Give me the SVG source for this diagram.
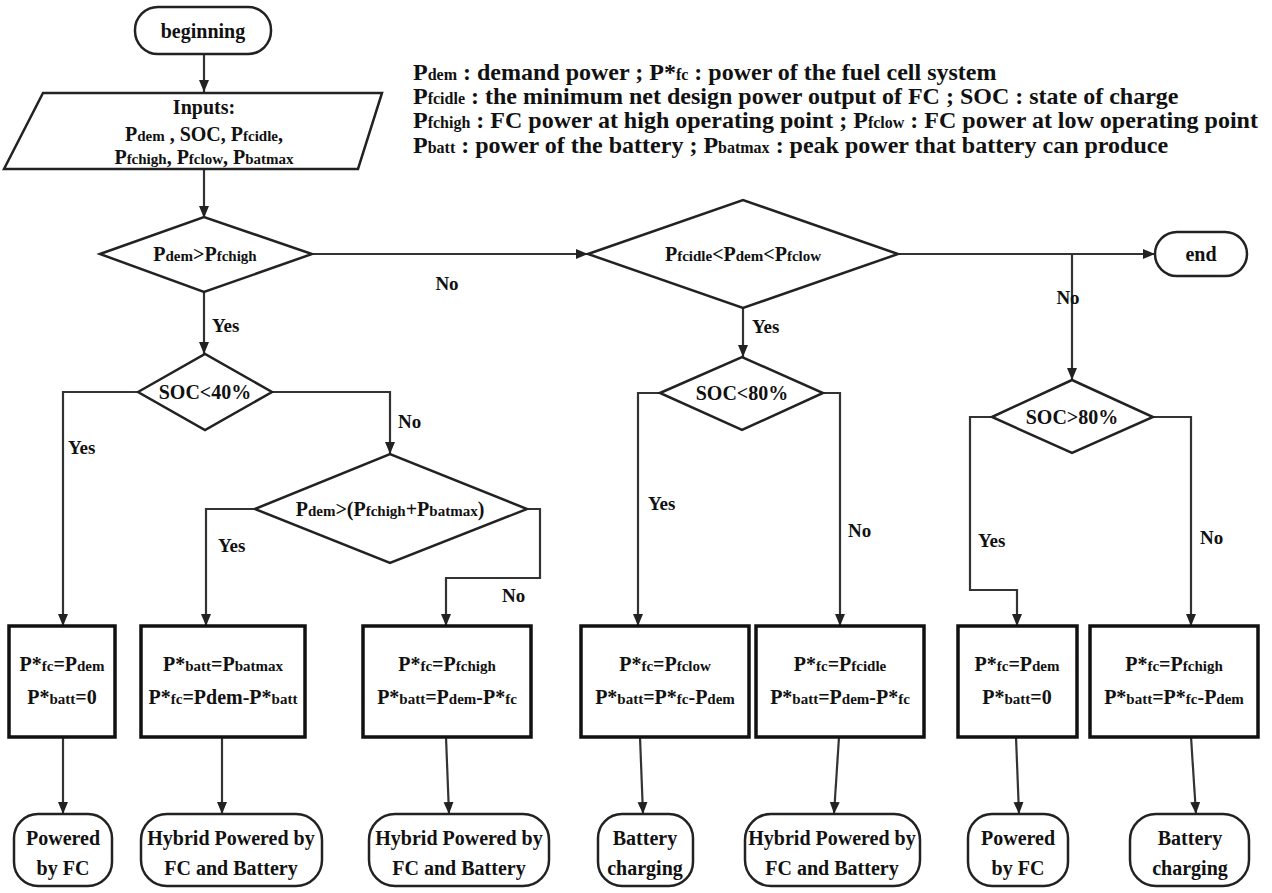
<svg xmlns="http://www.w3.org/2000/svg" width="1272" height="893" viewBox="0 0 1272 893">
<defs>
<marker id="ah" viewBox="0 0 12 12" refX="12" refY="6" markerWidth="12" markerHeight="12" markerUnits="userSpaceOnUse" orient="auto"><path d="M0,1 L12,6 L0,11 z" fill="#222"/></marker>
</defs>
<style>
text{font-family:"Liberation Serif","DejaVu Serif",serif;font-weight:bold;fill:#111;}
.n{font-size:20px;text-anchor:middle;}
.s{font-size:15px;}
.lg{font-size:24px;}
.ls{font-size:16px;}
.shape{fill:#fff;stroke:#222;stroke-width:2.5;}
.box{fill:#fff;stroke:#111;stroke-width:3.5;}
.c{fill:none;stroke:#333;stroke-width:2.2;marker-end:url(#ah);}
.lab{font-size:19px;}
</style>
<rect width="1272" height="893" fill="#fff"/>

<g id="legend" class="lg">
<text x="413" y="80">P<tspan class="ls">dem</tspan> : demand power ; P*<tspan class="ls">fc</tspan> : power of the fuel cell system</text>
<text x="413" y="104">P<tspan class="ls">fcidle</tspan> : the minimum net design power output of FC ; SOC : state of charge</text>
<text x="413" y="128">P<tspan class="ls">fchigh</tspan> : FC power at high operating point ; P<tspan class="ls">fclow</tspan> : FC power at low operating point</text>
<text x="413" y="153">P<tspan class="ls">batt</tspan> : power of the battery ; P<tspan class="ls">batmax</tspan> : peak power that battery can produce</text>
</g>

<g id="connectors">
<path class="c" d="M204,54 V92"/>
<path class="c" d="M204,169 V218"/>
<path class="c" d="M312,254 H588"/>
<path class="c" d="M204,292 V354"/>
<path class="c" d="M138,392 H63 V626"/>
<path class="c" d="M272,392 H390 V454"/>
<path class="c" d="M255,509 H206 V626"/>
<path class="c" d="M527,509 H540 V578 H446 V626"/>
<path class="c" d="M898,254 H1155"/>
<path class="c" d="M1072,254 V380"/>
<path class="c" d="M743,308 V357"/>
<path class="c" d="M660,393 H638 V626"/>
<path class="c" d="M823,393 H840 V626"/>
<path class="c" d="M992,417 H970 V590 H1017 V626"/>
<path class="c" d="M1153,417 H1191 V626"/>
<path class="c" d="M63,737 V814"/>
<path class="c" d="M222,737 L222,814"/>
<path class="c" d="M446,737 L449,814"/>
<path class="c" d="M640,737 L643,814"/>
<path class="c" d="M839,737 L834,814"/>
<path class="c" d="M1016,737 L1019,814"/>
<path class="c" d="M1191,737 L1196,814"/>
</g>

<g id="labels" class="lab">
<text x="447" y="290" text-anchor="middle">No</text>
<text x="212" y="332">Yes</text>
<text x="68" y="454">Yes</text>
<text x="398" y="428">No</text>
<text x="218" y="552">Yes</text>
<text x="502" y="602">No</text>
<text x="752" y="333">Yes</text>
<text x="1068" y="304" text-anchor="middle">No</text>
<text x="648" y="510">Yes</text>
<text x="848" y="537">No</text>
<text x="978" y="547">Yes</text>
<text x="1200" y="544">No</text>
</g>

<g id="beginning">
<rect class="shape" x="135" y="7" width="136" height="47" rx="23"/>
<text class="n" x="203" y="38">beginning</text>
</g>

<g id="inputs">
<polygon class="shape" points="43,93 382,93 358,169 4,169"/>
<text class="n" x="204" y="114">Inputs:</text>
<text class="n" x="204" y="141">P<tspan class="s">dem</tspan> , SOC, P<tspan class="s">fcidle</tspan>,</text>
<text class="n" x="204" y="164">P<tspan class="s">fchigh</tspan>, P<tspan class="s">fclow</tspan>, P<tspan class="s">batmax</tspan></text>
</g>

<g id="d1">
<polygon class="shape" points="100,254 204,217 312,254 204,292"/>
<text class="n" x="205" y="261">P<tspan class="s">dem</tspan>&gt;P<tspan class="s">fchigh</tspan></text>
</g>

<g id="d2">
<polygon class="shape" points="138,392 205,354 272,392 205,430"/>
<text class="n" x="205" y="399">SOC&lt;40%</text>
</g>

<g id="d3">
<polygon class="shape" points="255,509 390,454 527,509 390,563"/>
<text class="n" x="390" y="516">P<tspan class="s">dem</tspan>&gt;(P<tspan class="s">fchigh</tspan>+P<tspan class="s">batmax</tspan>)</text>
</g>

<g id="d4">
<polygon class="shape" points="588,254 743,200 898,254 743,308"/>
<text class="n" x="743" y="261">P<tspan class="s">fcidle</tspan>&lt;P<tspan class="s">dem</tspan>&lt;P<tspan class="s">fclow</tspan></text>
</g>

<g id="end">
<rect class="shape" x="1155" y="232" width="92" height="44" rx="22"/>
<text class="n" x="1201" y="261">end</text>
</g>

<g id="d5">
<polygon class="shape" points="660,393 742,357 823,393 742,430"/>
<text class="n" x="742" y="400">SOC&lt;80%</text>
</g>

<g id="d6">
<polygon class="shape" points="992,417 1072,380 1153,417 1072,453"/>
<text class="n" x="1072" y="424">SOC&gt;80%</text>
</g>

<g id="b1">
<rect class="box" x="9" y="626" width="106" height="111"/>
<text class="n" x="62" y="671">P*<tspan class="s">fc</tspan>=P<tspan class="s">dem</tspan></text>
<text class="n" x="62" y="704">P*<tspan class="s">batt</tspan>=0</text>
</g>
<g id="b2">
<rect class="box" x="141" y="626" width="164" height="111"/>
<text class="n" x="223" y="671">P*<tspan class="s">batt</tspan>=P<tspan class="s">batmax</tspan></text>
<text class="n" x="223" y="704">P*<tspan class="s">fc</tspan>=Pdem-P*<tspan class="s">batt</tspan></text>
</g>
<g id="b3">
<rect class="box" x="363" y="626" width="168" height="111"/>
<text class="n" x="447" y="671">P*<tspan class="s">fc</tspan>=P<tspan class="s">fchigh</tspan></text>
<text class="n" x="447" y="704">P*<tspan class="s">batt</tspan>=P<tspan class="s">dem</tspan>-P*<tspan class="s">fc</tspan></text>
</g>
<g id="b4">
<rect class="box" x="581" y="626" width="168" height="111"/>
<text class="n" x="665" y="671">P*<tspan class="s">fc</tspan>=P<tspan class="s">fclow</tspan></text>
<text class="n" x="665" y="704">P*<tspan class="s">batt</tspan>=P*<tspan class="s">fc</tspan>-P<tspan class="s">dem</tspan></text>
</g>
<g id="b5">
<rect class="box" x="756" y="626" width="168" height="111"/>
<text class="n" x="840" y="671">P*<tspan class="s">fc</tspan>=P<tspan class="s">fcidle</tspan></text>
<text class="n" x="840" y="704">P*<tspan class="s">batt</tspan>=P<tspan class="s">dem</tspan>-P*<tspan class="s">fc</tspan></text>
</g>
<g id="b6">
<rect class="box" x="958" y="626" width="119" height="111"/>
<text class="n" x="1017" y="671">P*<tspan class="s">fc</tspan>=P<tspan class="s">dem</tspan></text>
<text class="n" x="1017" y="704">P*<tspan class="s">batt</tspan>=0</text>
</g>
<g id="b7">
<rect class="box" x="1090" y="626" width="168" height="111"/>
<text class="n" x="1174" y="671">P*<tspan class="s">fc</tspan>=P<tspan class="s">fchigh</tspan></text>
<text class="n" x="1174" y="704">P*<tspan class="s">batt</tspan>=P*<tspan class="s">fc</tspan>-P<tspan class="s">dem</tspan></text>
</g>

<g id="t1">
<rect class="shape" x="14" y="814" width="98" height="72" rx="24"/>
<text class="n" x="63" y="845">Powered</text>
<text class="n" x="63" y="875">by FC</text>
</g>
<g id="t2">
<rect class="shape" x="141" y="814" width="181" height="72" rx="26"/>
<text class="n" x="231" y="845">Hybrid Powered by</text>
<text class="n" x="231" y="875">FC and Battery</text>
</g>
<g id="t3">
<rect class="shape" x="369" y="814" width="180" height="72" rx="26"/>
<text class="n" x="459" y="845">Hybrid Powered by</text>
<text class="n" x="459" y="875">FC and Battery</text>
</g>
<g id="t4">
<rect class="shape" x="598" y="814" width="95" height="72" rx="24"/>
<text class="n" x="645" y="845">Battery</text>
<text class="n" x="645" y="875">charging</text>
</g>
<g id="t5">
<rect class="shape" x="745" y="814" width="175" height="72" rx="26"/>
<text class="n" x="832" y="845">Hybrid Powered by</text>
<text class="n" x="832" y="875">FC and Battery</text>
</g>
<g id="t6">
<rect class="shape" x="968" y="814" width="100" height="72" rx="24"/>
<text class="n" x="1018" y="845">Powered</text>
<text class="n" x="1018" y="875">by  FC</text>
</g>
<g id="t7">
<rect class="shape" x="1130" y="814" width="119" height="72" rx="26"/>
<text class="n" x="1190" y="845">Battery</text>
<text class="n" x="1190" y="875">charging</text>
</g>
</svg>
